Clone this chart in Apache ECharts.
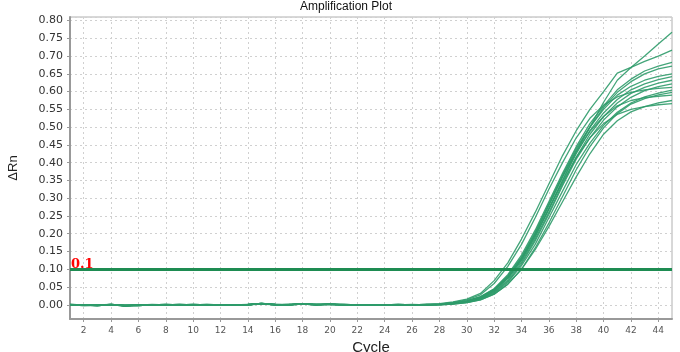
<!DOCTYPE html>
<html>
<head>
<meta charset="utf-8">
<script src="https://cdn.jsdelivr.net/npm/echarts@6/dist/echarts.min.js"></script>
<style>html,body{margin:0;padding:0;background:#fff}#c{width:680px;height:352px}</style>
</head>
<body>
<div id="c"></div>
<script>
const cycles = [1,2,3,4,5,6,7,8,9,10,11,12,13,14,15,16,17,18,19,20,21,22,23,24,25,26,27,28,29,30,31,32,33,34,35,36,37,38,39,40,41,42,43,44,45];
const thresholdValue = 0.1;
const yTickLabels = ['0.00','0.05','0.10','0.15','0.20','0.25','0.30','0.35','0.40','0.45','0.50','0.55','0.60','0.65','0.70','0.75','0.80'];

const well01 = [0.000,-0.001,-0.002,0.001,-0.002,-0.001,0.000,0.000,0.001,0.000,0.000,-0.001,0.000,0.001,0.004,0.001,0.000,0.003,0.001,0.002,0.000,-0.001,0.000,0.000,0.001,0.000,0.001,
  0.003,0.008,0.016,0.032,0.068,0.118,0.185,0.260,0.340,0.420,0.490,0.550,0.600,0.652,0.668,0.685,0.700,0.717];
const well02 = [-0.001,0.000,-0.001,0.000,-0.003,-0.002,0.000,0.001,0.000,0.000,0.001,0.000,0.000,0.000,0.003,0.000,0.001,0.002,0.000,0.001,-0.001,0.000,-0.001,0.000,0.000,-0.001,0.000,
  0.001,0.004,0.009,0.020,0.040,0.075,0.128,0.195,0.270,0.350,0.430,0.500,0.570,0.632,0.668,0.700,0.734,0.767];
const well03 = [0.001,0.000,-0.001,0.000,-0.002,-0.001,0.000,0.000,0.000,0.001,0.000,0.000,-0.001,0.000,0.003,0.001,0.000,0.003,0.000,0.002,0.001,0.000,0.000,-0.001,0.000,0.000,0.001,
  0.002,0.005,0.011,0.023,0.045,0.085,0.140,0.210,0.290,0.370,0.445,0.510,0.560,0.605,0.635,0.658,0.672,0.682];
const well04 = [0.000,-0.002,-0.002,0.000,-0.003,-0.001,0.000,0.000,0.000,0.000,-0.001,0.000,0.000,0.001,0.004,0.000,0.000,0.002,0.001,0.001,0.000,0.000,-0.001,0.000,0.000,0.000,0.000,
  0.001,0.004,0.010,0.021,0.042,0.078,0.130,0.200,0.280,0.360,0.435,0.500,0.555,0.598,0.628,0.650,0.664,0.672];
const well05 = [-0.001,-0.001,0.000,0.001,-0.002,0.000,0.000,0.001,0.000,0.000,0.000,-0.001,0.000,0.000,0.003,0.000,0.001,0.003,0.000,0.002,0.000,-0.001,0.000,0.000,0.000,0.001,0.000,
  0.002,0.005,0.011,0.022,0.044,0.082,0.135,0.205,0.285,0.365,0.440,0.500,0.550,0.590,0.615,0.632,0.643,0.650];
const well06 = [0.000,0.000,-0.002,0.000,-0.002,-0.002,0.000,0.000,0.001,0.000,0.000,0.000,-0.001,0.000,0.002,0.001,0.000,0.002,0.001,0.001,0.000,0.000,0.000,-0.001,0.000,0.000,0.000,
  0.001,0.004,0.009,0.020,0.040,0.075,0.125,0.190,0.270,0.350,0.425,0.490,0.540,0.578,0.605,0.622,0.634,0.642];
const well07 = [0.001,-0.001,-0.001,0.001,-0.003,-0.001,0.000,0.000,0.000,0.001,0.000,0.000,0.000,0.001,0.004,0.000,0.000,0.003,0.000,0.002,0.001,0.000,-0.001,0.000,0.001,0.000,0.000,
  0.001,0.003,0.008,0.018,0.037,0.070,0.120,0.185,0.260,0.340,0.415,0.480,0.530,0.568,0.595,0.612,0.624,0.632];
const well08 = [0.000,-0.001,-0.002,0.000,-0.002,-0.001,0.001,0.000,0.000,0.000,0.000,0.000,0.000,0.000,0.003,0.001,0.001,0.002,0.000,0.001,0.000,0.000,0.000,0.000,-0.001,0.000,0.000,
  0.001,0.003,0.008,0.017,0.035,0.066,0.115,0.180,0.255,0.335,0.410,0.470,0.520,0.557,0.584,0.603,0.614,0.622];
const well09 = [-0.001,-0.001,-0.001,0.000,-0.003,-0.002,0.000,0.000,0.000,0.000,0.001,0.000,0.000,0.000,0.003,0.000,0.000,0.003,0.001,0.002,0.000,-0.001,0.000,0.000,0.000,0.000,-0.001,
  0.000,0.003,0.007,0.016,0.033,0.063,0.110,0.170,0.245,0.320,0.395,0.455,0.505,0.542,0.568,0.585,0.596,0.604];
const well10 = [0.000,0.000,-0.002,0.001,-0.002,-0.001,0.000,0.001,0.000,0.000,0.000,0.000,-0.001,0.001,0.004,0.001,0.000,0.002,0.000,0.001,0.000,0.000,-0.001,0.000,0.000,0.000,0.000,
  0.000,0.002,0.006,0.014,0.030,0.058,0.100,0.160,0.230,0.305,0.380,0.445,0.498,0.538,0.565,0.580,0.591,0.598];
const well11 = [0.000,-0.001,-0.001,0.000,-0.002,-0.001,0.000,0.000,0.001,0.000,0.000,-0.001,0.000,0.000,0.003,0.000,0.000,0.003,0.000,0.002,0.001,0.000,0.000,0.000,0.000,0.000,0.001,
  0.001,0.004,0.010,0.021,0.043,0.080,0.132,0.200,0.280,0.360,0.430,0.488,0.530,0.560,0.575,0.583,0.587,0.590];
const well12 = [-0.001,-0.001,-0.002,0.000,-0.003,-0.001,0.000,0.000,0.000,0.000,0.000,0.000,0.000,0.001,0.002,0.000,0.001,0.002,0.001,0.001,0.000,-0.001,0.000,-0.001,0.000,0.000,0.000,
  0.000,0.002,0.006,0.014,0.030,0.058,0.100,0.155,0.220,0.290,0.360,0.425,0.480,0.518,0.543,0.558,0.568,0.575];
const well13 = [0.000,-0.002,-0.001,0.001,-0.002,-0.002,0.000,0.000,0.000,0.001,0.000,0.000,0.000,0.000,0.004,0.001,0.000,0.003,0.000,0.002,0.000,0.000,0.000,0.000,0.001,0.000,0.000,
  0.001,0.004,0.009,0.020,0.040,0.076,0.127,0.195,0.270,0.345,0.415,0.470,0.510,0.536,0.550,0.558,0.563,0.566];
const well14 = [0.001,0.000,-0.001,0.000,-0.002,-0.001,0.000,0.000,0.000,0.000,0.000,0.000,0.000,0.000,0.003,0.000,0.000,0.002,0.001,0.001,0.000,0.000,0.000,0.000,0.000,0.000,0.001,
  0.002,0.007,0.014,0.028,0.060,0.108,0.170,0.245,0.325,0.400,0.470,0.525,0.562,0.585,0.598,0.605,0.609,0.612];

const wells = [well01,well02,well03,well04,well05,well06,well07,well08,well09,well10,well11,well12,well13,well14];

const chart = echarts.init(document.getElementById('c'), null, {renderer: 'canvas'});
const curveColor = '#2f9b6a';
const evenOnly = (i, v) => Number(v) % 2 === 0;

const series = wells.map((w, k) => ({
  type: 'line', data: w, symbol: 'none', silent: true,
  lineStyle: {color: curveColor, width: 1.3, opacity: 0.9},
  z: 3
}));
series.push({
  type: 'line', data: [], symbol: 'none', silent: true,
  markLine: {
    silent: true, symbol: 'none',
    lineStyle: {color: '#1e8c52', width: 3, type: 'solid'},
    label: {show: true, position: 'insideStartTop', formatter: String(thresholdValue), color: '#ff0000',
      fontFamily: 'DejaVu Serif', fontWeight: 'bold', fontSize: 13, distance: [1, -2]},
    data: [{yAxis: thresholdValue}]
  },
  z: 4
});

chart.setOption({
  animation: false,
  backgroundColor: '#fff',
  title: {text: 'Amplification Plot', left: 300, top: 1, padding: 0,
    textStyle: {fontFamily: 'Liberation Sans', fontSize: 12, fontWeight: 'normal', color: '#111'}},
  grid: {left: 70, right: 8, top: 17, bottom: 33, show: true, borderColor: '#b0b0b0', borderWidth: 1,
    containLabel: false, outerBoundsMode: 'none'},
  xAxis: {
    type: 'category', data: cycles, boundaryGap: false,
    name: 'Cycle', nameLocation: 'middle', nameGap: 18,
    nameTextStyle: {fontFamily: 'Liberation Sans', fontSize: 15, color: '#222'},
    axisLine: {onZero: false, lineStyle: {color: '#999', width: 2}},
    axisTick: {show: true, interval: evenOnly, length: 3, lineStyle: {color: '#999'}},
    axisLabel: {interval: evenOnly, margin: 7, fontFamily: 'DejaVu Sans', fontSize: 9, color: '#555'},
    splitLine: {show: true, interval: evenOnly, lineStyle: {color: '#d0d0d0', type: [2, 3], width: 1}}
  },
  yAxis: {
    type: 'value', min: -0.04, max: 0.81, splitNumber: 17,
    name: 'ΔRn', nameLocation: 'middle', nameGap: 50,
    nameTextStyle: {fontFamily: 'Liberation Sans', fontSize: 13, color: '#222'},
    axisLine: {show: true, lineStyle: {color: '#999', width: 2}},
    axisTick: {show: true, length: 3, lineStyle: {color: '#999'}},
    axisLabel: {showMinLabel: false, showMaxLabel: false, margin: 7, fontFamily: 'DejaVu Sans', fontSize: 11, color: '#333',
      formatter: v => { const s = Math.abs(v).toFixed(2); return yTickLabels.indexOf(s) >= 0 && v > -0.001 ? s : ''; }},
    splitLine: {show: true, lineStyle: {color: '#d0d0d0', type: [2, 3], width: 1}}
  },
  series: series
});
</script>
</body>
</html>
